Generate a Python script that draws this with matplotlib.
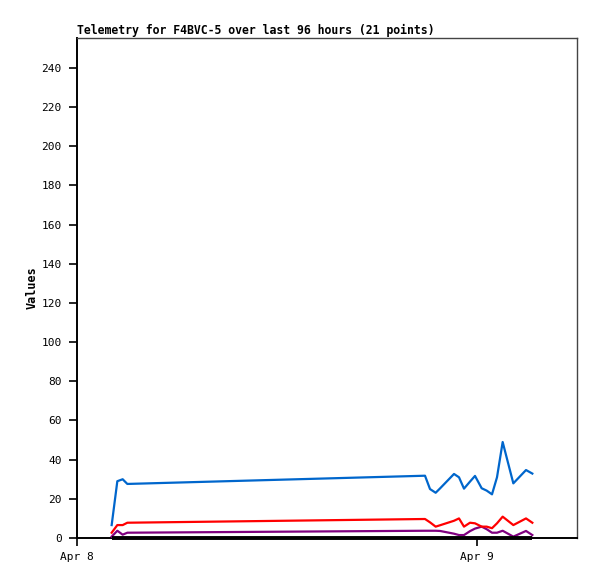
import numpy as np
import matplotlib
matplotlib.use('Agg')
import matplotlib.pyplot as plt

# hours since Apr 8 00:00
hours = [2.08, 2.42, 2.74, 3.02, 20.88, 21.18, 21.52, 21.78, 22.62, 22.92, 23.22,
         23.58, 23.88, 24.28, 24.58, 24.9, 25.2, 25.54, 26.18, 26.94, 27.32]

blue = [6.6, 29.0, 30.0, 27.6, 31.8, 25.0, 23.1, 25.3, 32.7, 31.0, 25.2,
        28.8, 31.7, 25.4, 24.2, 22.3, 31.0, 49.0, 27.9, 34.7, 32.9]
red = [2.7, 6.6, 6.6, 7.8, 9.7, 8.0, 5.8, 6.5, 8.8, 10.0, 5.8,
       7.8, 7.5, 5.8, 5.8, 5.0, 7.5, 10.9, 6.6, 10.0, 7.8]
purple = [0.7, 3.7, 1.7, 2.7, 3.7, 3.7, 3.7, 3.6, 2.2, 1.5, 1.5,
          3.5, 4.8, 5.8, 4.5, 2.7, 2.7, 3.7, 0.7, 3.6, 1.5]
black = [0.0] * len(hours)

xtick_pos = [0, 24]
xtick_labels = ['Apr 8', 'Apr 9']
ytick_pos = list(range(0, 241, 20))

mono = 'DejaVu Sans Mono'

fig = plt.figure(figsize=(5.97, 5.79), dpi=100)
ax = fig.add_axes([77/597, 1 - 538/579, 500/597, 500/579])

ax.plot(hours, black, color='black', lw=2.8, solid_capstyle='butt', zorder=6, clip_on=False)
ax.plot(hours, purple, color='#800080', lw=1.6, zorder=3)
ax.plot(hours, red, color='#ff0000', lw=1.6, zorder=4)
ax.plot(hours, blue, color='#0066cc', lw=1.6, zorder=5)

ax.set_xlim(0, 30)
ax.set_ylim(0, 255.3)
ax.set_xticks(xtick_pos)
ax.set_xticklabels(xtick_labels, fontfamily=mono, fontsize=8)
ax.set_yticks(ytick_pos)
ax.set_yticklabels([str(v) for v in ytick_pos], fontfamily=mono, fontsize=8)
ax.tick_params(axis='y', length=6, width=1.2, pad=5)
ax.tick_params(axis='x', length=6, width=1.2, pad=4)

for s in ['left', 'bottom']:
    ax.spines[s].set_linewidth(1.4)
    ax.spines[s].set_color('black')
for s in ['top', 'right']:
    ax.spines[s].set_linewidth(1.0)
    ax.spines[s].set_color('#444444')

ax.set_ylabel('Values', fontfamily=mono, fontsize=8.5, fontweight='bold', labelpad=2)
ax.set_title('Telemetry for F4BVC-5 over last 96 hours (21 points)', loc='left',
             fontfamily=mono, fontsize=8.3, fontweight='bold', pad=3)

fig.savefig('out.png', dpi=100)
